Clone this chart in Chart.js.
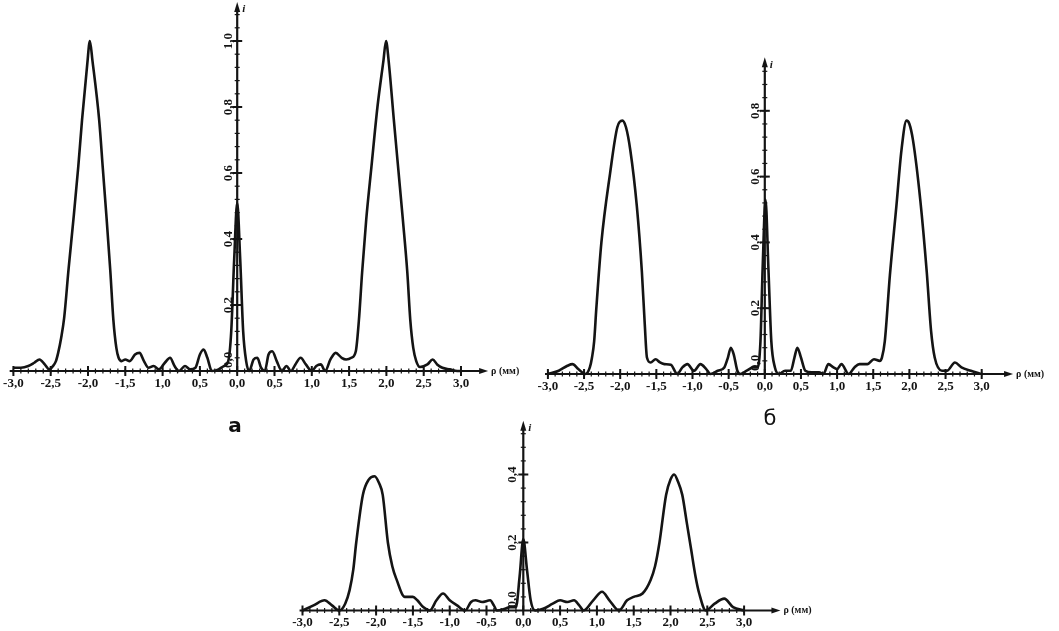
<!DOCTYPE html>
<html>
<head>
<meta charset="utf-8">
<script src="https://cdn.jsdelivr.net/npm/chart.js@4.4.1/dist/chart.umd.min.js"></script>
<style>
  html, body { margin: 0; padding: 0; background: #fff; }
  body { width: 1059px; height: 631px; position: relative; overflow: hidden; }
  canvas { position: absolute; left: 0; top: 0; }
  .cap { position: absolute; font-family: "DejaVu Sans", sans-serif; color: #111; line-height: 1; transform: translate(-50%, -50%); }
</style>
</head>
<body>
<canvas id="chartA" width="1059" height="631"></canvas>
<canvas id="chartB" width="1059" height="631"></canvas>
<canvas id="chartC" width="1059" height="631"></canvas>
<div class="cap" style="left:235px; top:425px; font-size:20px; font-weight:bold;">а</div>
<div class="cap" style="left:770px; top:418px; font-size:21px;">б</div>
<script>
// ---------------- data ----------------
const xTickValues = [-3.0, -2.5, -2.0, -1.5, -1.0, -0.5, 0.0, 0.5, 1.0, 1.5, 2.0, 2.5, 3.0];
const xTickLabels = ["-3,0", "-2,5", "-2,0", "-1,5", "-1,0", "-0,5", "0,0", "0,5", "1,0", "1,5", "2,0", "2,5", "3,0"];
const xTickLabelsA = ["-3,0", "-2,5", "-2,0", "-1,5", "1,0", "0,5", "0,0", "0,5", "1,0", "1,5", "2,0", "2,5", "3,0"];

const yTicksA = [0.0, 0.2, 0.4, 0.6, 0.8, 1.0];
const yLabelsA = ["0,0", "0,2", "0,4", "0,6", "0,8", "1,0"];
const yTicksB = [0.0, 0.2, 0.4, 0.6, 0.8];
const yLabelsB = ["0,0", "0,2", "0,4", "0,6", "0,8"];
const yTicksC = [0.0, 0.2, 0.4];
const yLabelsC = ["0,0", "0,2", "0,4"];

const axisName = "ρ (мм)";
const intensityName = "i";

// panel а
const rhoA = [
  -3.00, -2.90, -2.80, -2.72, -2.65, -2.58, -2.52, -2.47, -2.43, -2.40,
  -2.36, -2.32, -2.26, -2.195, -2.13, -2.08, -2.01, -1.975, -1.94, -1.85,
  -1.80, -1.75, -1.70, -1.66, -1.62, -1.59, -1.55, -1.50, -1.44, -1.37,
  -1.31, -1.25, -1.19, -1.12, -1.05, -0.97, -0.90, -0.84, -0.78, -0.70,
  -0.63, -0.56, -0.50, -0.45, -0.40, -0.34, -0.25, -0.18, -0.12, -0.08,
  -0.04, 0.00, 0.04, 0.08, 0.12, 0.16, 0.22, 0.27, 0.32, 0.37,
  0.42, 0.47, 0.53, 0.60, 0.66, 0.72, 0.78, 0.85, 0.92, 1.00,
  1.06, 1.12, 1.18, 1.25, 1.32, 1.40, 1.46, 1.53, 1.59, 1.63,
  1.675, 1.73, 1.80, 1.88, 1.96, 1.995, 2.03, 2.10, 2.16, 2.22,
  2.28, 2.32, 2.36, 2.40, 2.45, 2.55, 2.62, 2.68, 2.75, 2.85,
  2.95, 3.00
];
const intensityA = [
  0.010, 0.010, 0.015, 0.025, 0.035, 0.020, 0.005, 0.015, 0.030, 0.055,
  0.100, 0.160, 0.310, 0.460, 0.620, 0.760, 0.930, 1.000, 0.940, 0.760,
  0.610, 0.460, 0.300, 0.155, 0.070, 0.040, 0.030, 0.035, 0.030, 0.050,
  0.055, 0.030, 0.010, 0.015, 0.005, 0.025, 0.040, 0.015, 0.000, 0.015,
  0.005, 0.010, 0.050, 0.065, 0.040, 0.000, 0.005, 0.015, 0.030, 0.120,
  0.340, 0.510, 0.340, 0.120, 0.030, 0.000, 0.035, 0.040, 0.010, 0.000,
  0.050, 0.060, 0.030, 0.000, 0.015, 0.000, 0.020, 0.040, 0.020, 0.000,
  0.015, 0.020, 0.000, 0.035, 0.055, 0.040, 0.035, 0.040, 0.060, 0.150,
  0.300, 0.460, 0.620, 0.800, 0.940, 1.000, 0.940, 0.760, 0.610, 0.460,
  0.300, 0.155, 0.070, 0.030, 0.012, 0.020, 0.035, 0.020, 0.010, 0.005,
  0.000, 0.000
];

// panel б
const rhoB = [
  -3.00, -2.85, -2.73, -2.66, -2.58, -2.48, -2.42, -2.39, -2.36, -2.33,
  -2.26, -2.14, -2.04, -1.97, -1.92, -1.86, -1.77, -1.70, -1.66, -1.63,
  -1.58, -1.51, -1.45, -1.39, -1.30, -1.21, -1.14, -1.07, -0.98, -0.89,
  -0.81, -0.75, -0.65, -0.56, -0.51, -0.47, -0.43, -0.38, -0.34, -0.25,
  -0.16, -0.10, -0.06, -0.03, 0.01, 0.05, 0.09, 0.14, 0.20, 0.28,
  0.36, 0.41, 0.45, 0.50, 0.56, 0.65, 0.75, 0.81, 0.88, 0.95,
  1.00, 1.06, 1.16, 1.24, 1.31, 1.42, 1.51, 1.59, 1.62, 1.66,
  1.73, 1.82, 1.89, 1.96, 2.00, 2.05, 2.15, 2.24, 2.30, 2.35,
  2.45, 2.52, 2.63, 2.72, 2.85, 3.00
];
const intensityB = [
  0.000, 0.010, 0.025, 0.030, 0.015, 0.000, 0.020, 0.050, 0.100, 0.200,
  0.400, 0.610, 0.750, 0.770, 0.750, 0.680, 0.510, 0.310, 0.150, 0.050,
  0.035, 0.045, 0.035, 0.030, 0.028, 0.000, 0.020, 0.030, 0.010, 0.030,
  0.015, 0.000, 0.010, 0.020, 0.050, 0.080, 0.060, 0.010, 0.000, 0.010,
  0.020, 0.020, 0.100, 0.320, 0.530, 0.320, 0.100, 0.020, 0.000, 0.010,
  0.010, 0.050, 0.080, 0.050, 0.010, 0.005, 0.005, 0.000, 0.030, 0.020,
  0.015, 0.030, 0.000, 0.020, 0.030, 0.030, 0.045, 0.040, 0.050, 0.100,
  0.300, 0.510, 0.680, 0.770, 0.760, 0.710, 0.530, 0.310, 0.130, 0.050,
  0.010, 0.010, 0.035, 0.020, 0.010, 0.000
];

// panel в
const rhoC = [
  -3.00, -2.85, -2.70, -2.60, -2.50, -2.42, -2.36, -2.31, -2.27, -2.18,
  -2.10, -2.02, -1.96, -1.91, -1.84, -1.78, -1.72, -1.61, -1.50, -1.44,
  -1.36, -1.27, -1.18, -1.09, -1.00, -0.90, -0.79, -0.71, -0.65, -0.56,
  -0.45, -0.40, -0.36, -0.25, -0.18, -0.10, -0.05, 0.00, 0.05, 0.10,
  0.16, 0.27, 0.40, 0.50, 0.60, 0.69, 0.76, 0.82, 0.95, 1.07,
  1.17, 1.30, 1.41, 1.50, 1.62, 1.73, 1.79, 1.85, 1.94, 2.00,
  2.05, 2.10, 2.16, 2.22, 2.28, 2.34, 2.39, 2.48, 2.60, 2.73,
  2.85, 3.00
];
const intensityC = [
  0.000, 0.015, 0.030, 0.015, 0.000, 0.020, 0.060, 0.120, 0.200, 0.340,
  0.385, 0.395, 0.375, 0.340, 0.200, 0.130, 0.090, 0.040, 0.040, 0.030,
  0.010, 0.000, 0.030, 0.050, 0.030, 0.015, 0.000, 0.025, 0.030, 0.025,
  0.030, 0.015, 0.000, 0.005, 0.010, 0.010, 0.100, 0.210, 0.120, 0.030,
  0.000, 0.005, 0.020, 0.030, 0.025, 0.030, 0.015, 0.000, 0.030, 0.055,
  0.030, 0.000, 0.030, 0.040, 0.050, 0.090, 0.130, 0.200, 0.340, 0.385,
  0.400, 0.380, 0.340, 0.260, 0.180, 0.100, 0.050, 0.000, 0.020, 0.035,
  0.010, 0.000
];

// ---------------- drawing ----------------
const INK = "#141414";
const W = 1059, H = 631;

function makeAxes(cfg) {
  return {
    id: "sciAxes",
    afterDatasetsDraw(chart) {
      const ctx = chart.ctx;
      const xs = chart.scales.x, ys = chart.scales.y;
      const x0 = xs.getPixelForValue(0);
      const yb = ys.getPixelForValue(0);
      const xl = xs.left, xr = xs.right, yt = ys.top;
      ctx.save();
      ctx.strokeStyle = INK;
      ctx.fillStyle = INK;
      ctx.lineCap = "butt";

      // x axis line + arrow
      ctx.lineWidth = 2.2;
      ctx.beginPath();
      ctx.moveTo(xl, yb);
      ctx.lineTo(xr - 6, yb);
      ctx.stroke();
      ctx.beginPath();
      ctx.moveTo(xr + 1, yb);
      ctx.lineTo(xr - 8, yb - 3);
      ctx.lineTo(xr - 8, yb + 3);
      ctx.closePath();
      ctx.fill();

      // x minor ticks
      ctx.lineWidth = 1.2;
      for (let k = -30; k <= 30; k++) {
        const px = xs.getPixelForValue(k / 10);
        ctx.beginPath();
        ctx.moveTo(px, yb - 2.5);
        ctx.lineTo(px, yb + 2.5);
        ctx.stroke();
      }
      // x major ticks
      ctx.lineWidth = 2;
      cfg.xTicks.forEach(v => {
        const px = xs.getPixelForValue(v);
        ctx.beginPath();
        ctx.moveTo(px, yb - 5);
        ctx.lineTo(px, yb + 5);
        ctx.stroke();
      });
      // x labels
      ctx.font = "bold 13px 'Liberation Serif', serif";
      ctx.textAlign = "center";
      ctx.textBaseline = "top";
      cfg.xTicks.forEach((v, i) => {
        const px = xs.getPixelForValue(v);
        ctx.fillText(cfg.xLabels[i], px, yb + 6);
      });
      // axis name
      ctx.font = "bold 10px 'Liberation Serif', serif";
      ctx.textAlign = "left";
      ctx.textBaseline = "middle";
      ctx.fillText(axisName, xr + 4, yb);

      // y axis line + arrow
      ctx.lineWidth = 2.2;
      ctx.beginPath();
      ctx.moveTo(x0, yb);
      ctx.lineTo(x0, yt + 6);
      ctx.stroke();
      ctx.beginPath();
      ctx.moveTo(x0, yt - 1);
      ctx.lineTo(x0 - 3, yt + 9);
      ctx.lineTo(x0 + 3, yt + 9);
      ctx.closePath();
      ctx.fill();

      // y minor ticks
      ctx.lineWidth = 1.2;
      const yMax = ys.max;
      for (let k = 1; k * 0.04 < yMax - 0.03; k++) {
        const py = ys.getPixelForValue(k * 0.04);
        ctx.beginPath();
        ctx.moveTo(x0 - 2.5, py);
        ctx.lineTo(x0 + 2.5, py);
        ctx.stroke();
      }
      // y major ticks
      ctx.lineWidth = 2;
      cfg.yTicks.forEach(v => {
        if (v === 0) return;
        const py = ys.getPixelForValue(v);
        ctx.beginPath();
        ctx.moveTo(x0 - 5, py);
        ctx.lineTo(x0 + 5, py);
        ctx.stroke();
      });
      // y labels, rotated
      ctx.font = "bold 13px 'Liberation Serif', serif";
      ctx.textBaseline = "middle";
      cfg.yTicks.forEach((v, i) => {
        const py = ys.getPixelForValue(v);
        ctx.save();
        if (v === 0) {
          ctx.translate(x0 - cfg.yLabelGap, py - 3);
          ctx.rotate(-Math.PI / 2);
          ctx.textAlign = "left";
        } else {
          ctx.translate(x0 - cfg.yLabelGap, py);
          ctx.rotate(-Math.PI / 2);
          ctx.textAlign = "center";
        }
        ctx.fillText(cfg.yLabels[i], 0, 0);
        ctx.restore();
      });
      // intensity name
      ctx.font = "italic bold 11px 'Liberation Serif', serif";
      ctx.textAlign = "left";
      ctx.textBaseline = "top";
      ctx.fillText(intensityName, x0 + 5, yt + 1);
      ctx.restore();
    }
  };
}

function padFor(x0px, xUnit, yBase, yUnit, xMin, xMax, yMax) {
  return {
    left: x0px + xMin * xUnit,
    right: W - (x0px + xMax * xUnit),
    top: yBase - yMax * yUnit,
    bottom: H - yBase
  };
}

function build(id, rho, inten, p, axCfg) {
  const pts = rho.map((r, i) => ({ x: r, y: inten[i] }));
  return new Chart(document.getElementById(id), {
    type: "line",
    data: {
      datasets: [{
        data: pts,
        borderColor: INK,
        borderWidth: 2.6,
        pointRadius: 0,
        fill: false,
        cubicInterpolationMode: "monotone",
        clip: false
      }]
    },
    options: {
      responsive: false,
      animation: false,
      events: [],
      layout: { padding: padFor(p.x0, p.xu, p.yb, p.yu, p.xMin, p.xMax, p.yMax) },
      scales: {
        x: { type: "linear", min: p.xMin, max: p.xMax, display: false },
        y: { type: "linear", min: 0, max: p.yMax, display: false }
      },
      plugins: { legend: { display: false }, tooltip: { enabled: false } }
    },
    plugins: [makeAxes(axCfg)]
  });
}

build("chartA", rhoA, intensityA,
  { x0: 237.2, xu: 74.6, yb: 371, yu: 330, xMin: -3.05, xMax: 3.35, yMax: 1.115 },
  { xTicks: xTickValues, xLabels: xTickLabelsA, yTicks: yTicksA, yLabels: yLabelsA, yLabelGap: 9 });

build("chartB", rhoB, intensityB,
  { x0: 764.8, xu: 72.3, yb: 374, yu: 329, xMin: -3.04, xMax: 3.42, yMax: 0.96 },
  { xTicks: xTickValues, xLabels: xTickLabels, yTicks: yTicksB, yLabels: yLabelsB, yLabelGap: 9 });

build("chartC", rhoC, intensityC,
  { x0: 523.3, xu: 73.6, yb: 610.5, yu: 340, xMin: -3.04, xMax: 3.48, yMax: 0.555 },
  { xTicks: xTickValues, xLabels: xTickLabels, yTicks: yTicksC, yLabels: yLabelsC, yLabelGap: 11 });
</script>
</body>
</html>
